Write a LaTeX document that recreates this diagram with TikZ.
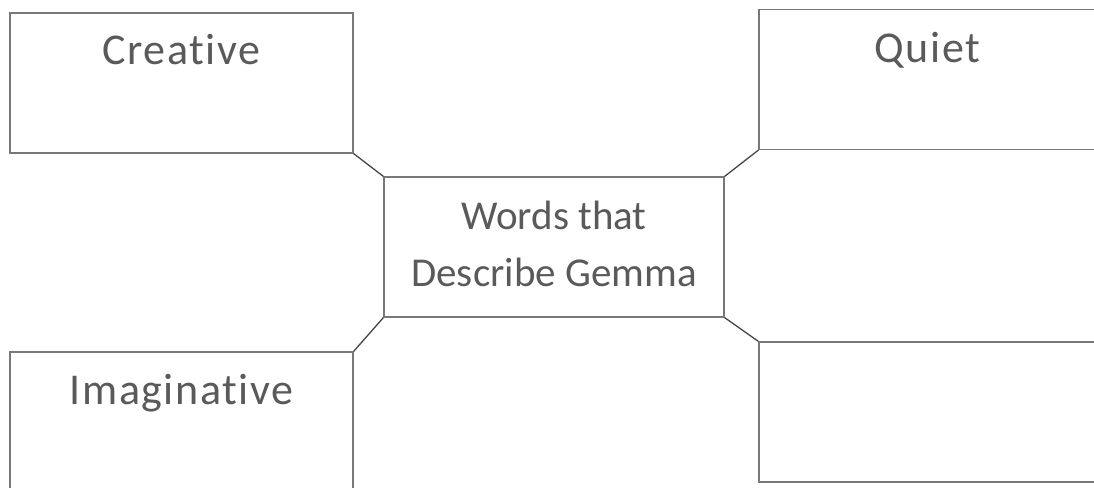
\documentclass[tikz,border=0pt]{standalone}
\usepackage{fontspec}
\setmainfont{Carlito}[Ligatures=NoCommon]
\usepackage{tikz}
\usetikzlibrary{positioning, calc}
\definecolor{BoxGray}{RGB}{120,120,120}
\definecolor{LinkGray}{RGB}{70,70,70}
\definecolor{TextGray}{RGB}{90,90,90}

\begin{document}
\begin{tikzpicture}[x=1pt, y=-1pt,
            wordbox/.style={rectangle, draw=BoxGray, line width=1.1pt,
                            minimum width=343pt, minimum height=140pt, inner sep=0pt},
            wordtext/.style={font=\fontsize{44}{50}\selectfont\addfontfeatures{LetterSpace=3.5},
                             text=TextGray, anchor=base, inner sep=0pt},
            link/.style={draw=LinkGray, line width=1.3pt}
          ]
          \useasboundingbox (0,0) rectangle (1094,487);
          \clip (0,0) rectangle (1094,487);

          % centre box
          \node[wordbox, minimum width=340pt] (gemma) at (554,247) {};
          \node[font=\fontsize{41}{57}\selectfont, text=TextGray, align=center]
                (gemmatext) at (554,244) {Words that\\Describe Gemma};

          % the four word boxes
          \node[wordbox] (creative) at (181.5,83) {};
          \node[wordbox, minimum width=337pt] (quiet) at (927.5,79.5) {};
          \node[wordbox] (imaginative) at (181.5,422) {};
          \node[wordbox, minimum width=337pt] (blank) at (927.5,412) {};

          \node[wordtext] (creativetext) at ($(creative.north)+(0,52)$) {Creative};
          \node[wordtext] (quiettext) at ($(quiet.north)+(0,54)$) {Quiet};
          \node[wordtext] (imaginativetext) at ($(imaginative.north)+(0,53)$) {Imaginative};

          \draw[link] (creative.south east) -- (gemma.north west);
          \draw[link] (quiet.south west) -- (gemma.north east);
          \draw[link] (imaginative.north east) -- (gemma.south west);
          \draw[link] (blank.north west) -- (gemma.south east);
        \end{tikzpicture}
\end{document}
